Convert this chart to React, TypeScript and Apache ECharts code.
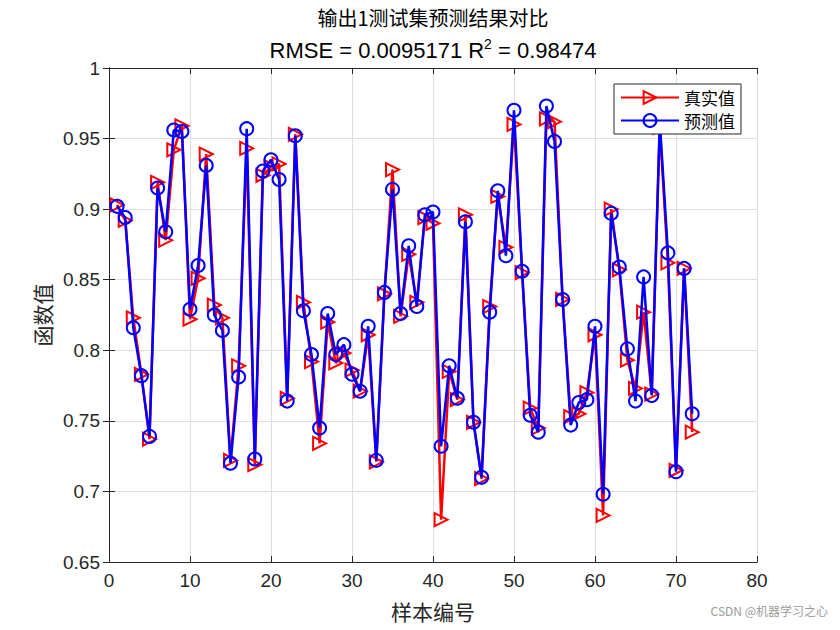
import React, { useEffect, useRef } from 'react'
import * as echarts from 'echarts'

const titleMain = '输出1测试集预测结果对比'
const rmseText = 'RMSE = 0.0095171 R'
const r2Text = ' = 0.98474'
const legendNames = ['真实值', '预测值']

// 真实值
const trueValues = [
  0.903, 0.892, 0.823, 0.783, 0.737, 0.919, 0.878, 0.942, 0.959, 0.822,
  0.851, 0.939, 0.832, 0.823, 0.722, 0.789, 0.943, 0.719, 0.924, 0.930,
  0.932, 0.766, 0.953, 0.834, 0.792, 0.734, 0.820, 0.791, 0.798, 0.786,
  0.771, 0.811, 0.721, 0.840, 0.928, 0.824, 0.868, 0.834, 0.894, 0.890,
  0.680, 0.785, 0.765, 0.896, 0.749, 0.709, 0.831, 0.909, 0.873, 0.960,
  0.855, 0.759, 0.745, 0.964, 0.962, 0.836, 0.753, 0.755, 0.770, 0.811,
  0.683, 0.900, 0.857, 0.793, 0.773, 0.827, 0.769, 0.958, 0.862, 0.715,
  0.858, 0.742,
]

// 预测值
const predValues = [
  0.902, 0.894, 0.816, 0.782, 0.739, 0.915, 0.884, 0.956, 0.955, 0.829,
  0.860, 0.931, 0.825, 0.814, 0.720, 0.781, 0.957, 0.723, 0.927, 0.935,
  0.921, 0.764, 0.952, 0.828, 0.797, 0.745, 0.826, 0.797, 0.804, 0.783,
  0.771, 0.817, 0.722, 0.841, 0.914, 0.826, 0.874, 0.831, 0.896, 0.898,
  0.732, 0.789, 0.766, 0.891, 0.749, 0.710, 0.827, 0.913, 0.867, 0.970,
  0.856, 0.754, 0.742, 0.973, 0.948, 0.836, 0.747, 0.763, 0.765, 0.817,
  0.698, 0.897, 0.859, 0.801, 0.764, 0.852, 0.768, 0.962, 0.869, 0.714,
  0.858, 0.755,
]

const sans = '"Liberation Sans", Arial, "Noto Sans CJK SC", sans-serif'
const cjk = '"Noto Sans CJK SC", "Liberation Sans", sans-serif'
const ink = '#262626'
const clear = 'rgba(0,0,0,0)'

export default function App() {
  const chartRef = useRef<HTMLDivElement | null>(null)

  useEffect(() => {
    if (!chartRef.current) return
    const chart = echarts.init(chartRef.current, undefined, { renderer: 'svg' })

    const trueData = trueValues.map((v, i) => [i + 1, v])
    const predData = predValues.map((v, i) => [i + 1, v])

    const frameAxis = {
      axisLine: { show: true, lineStyle: { color: ink, width: 1 } },
      axisTick: { show: true, inside: true, length: 6, lineStyle: { color: ink } },
      axisLabel: { show: false },
      splitLine: { show: false },
    }

    chart.setOption({
      animation: false,
      backgroundColor: '#fff',
      legend: {
        orient: 'vertical',
        left: 614,
        top: 84,
        padding: [5, 6, 5, 6],
        itemGap: 6,
        itemWidth: 58,
        itemHeight: 16,
        backgroundColor: '#fff',
        borderColor: ink,
        borderWidth: 1,
        borderRadius: 0,
        textStyle: { fontFamily: cjk, fontSize: 17, color: '#000' },
        data: legendNames,
      },
      grid: { left: 109, right: 83, top: 68, bottom: 68 },
      xAxis: [
        {
          type: 'value',
          min: 0,
          max: 80,
          interval: 10,
          name: '样本编号',
          nameLocation: 'middle',
          nameGap: 38,
          nameTextStyle: { fontFamily: cjk, fontSize: 21, color: ink },
          axisLine: { show: true, lineStyle: { color: ink } },
          axisTick: { show: true, inside: true, length: 6, lineStyle: { color: ink } },
          axisLabel: { fontFamily: sans, fontSize: 19, color: ink, margin: 9 },
          splitLine: { show: true, lineStyle: { color: '#dfdfdf', width: 1 } },
        },
        { type: 'value', position: 'top', min: 0, max: 80, interval: 10, ...frameAxis },
      ],
      yAxis: [
        {
          type: 'value',
          min: 0.65,
          max: 1,
          interval: 0.05,
          name: '函数值',
          nameLocation: 'middle',
          nameGap: 56,
          nameTextStyle: { fontFamily: cjk, fontSize: 21, color: ink },
          axisLine: { show: true, lineStyle: { color: ink } },
          axisTick: { show: true, inside: true, length: 6, lineStyle: { color: ink } },
          axisLabel: {
            fontFamily: sans,
            fontSize: 19,
            color: ink,
            margin: 9,
            formatter: (v: number) => String(Math.round(v * 100) / 100),
          },
          splitLine: { show: true, lineStyle: { color: '#dfdfdf', width: 1 } },
        },
        { type: 'value', position: 'right', min: 0.65, max: 1, interval: 0.05, ...frameAxis },
      ],
      series: [
        {
          name: legendNames[0],
          type: 'line',
          data: trueData,
          symbol: 'triangle',
          symbolSize: 13,
          symbolRotate: -90,
          lineStyle: { color: '#ff0000', width: 2.5 },
          itemStyle: { color: clear, borderColor: '#ff0000', borderWidth: 2 },
          z: 2,
        },
        {
          name: legendNames[1],
          type: 'line',
          data: predData,
          symbol: 'circle',
          symbolSize: 13,
          lineStyle: { color: '#0000ff', width: 2.5 },
          itemStyle: { color: clear, borderColor: '#0000ff', borderWidth: 2 },
          z: 3,
        },
      ],
      graphic: [
        // titles are centred over the axes, as in MATLAB
        {
          type: 'text',
          x: 433,
          y: 7,
          style: {
            text: titleMain,
            fill: '#000',
            font: `20px ${cjk}`,
            align: 'center',
            verticalAlign: 'top',
          },
        },
        {
          type: 'text',
          x: 433,
          y: 37,
          style: {
            text: `{b|${rmseText}}{s|2}{b|${r2Text}}`,
            align: 'center',
            verticalAlign: 'top',
            rich: {
              b: { fontFamily: sans, fontSize: 22, fill: '#000', lineHeight: 26 },
              s: { fontFamily: sans, fontSize: 14, fill: '#000', lineHeight: 26, verticalAlign: 'top', padding: [0, 0, 8, 0] },
            },
          },
        },
        {
          type: 'text',
          right: 12,
          top: 604,
          style: { text: 'CSDN @机器学习之心', fill: '#9a9a9a', font: `12px ${cjk}` },
          z: 10,
        },
      ],
    })

    return () => {
      chart.dispose()
    }
  }, [])

  return (
    <div
      ref={chartRef}
      style={{ position: 'fixed', left: 0, top: 0, width: 840, height: 630 }}
    />
  )
}
